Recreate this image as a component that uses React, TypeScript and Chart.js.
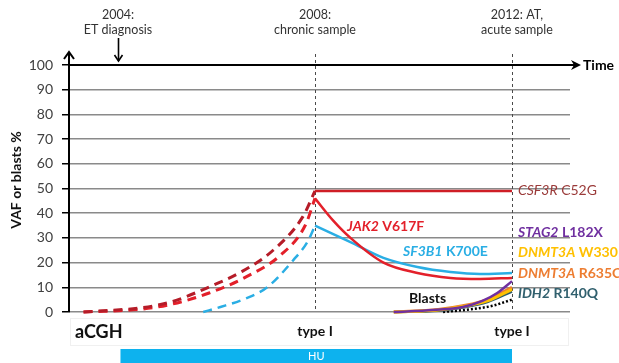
import React, { useEffect, useRef } from "react";
import { Chart, registerables } from "chart.js";

Chart.register(...registerables);

// ---- time axis (years) ----
const X_MIN = 2003.025;
const X_MAX = 2013.178;
const diagnosisYear = 2004;
const sampleYears = [2008, 2012];
const huStart = 2004.05;
const huEnd = 2012;

// ---- y axis ----
const yTickValues = [0, 10, 20, 30, 40, 50, 60, 70, 80, 90, 100];

// ---- clone trajectories (VAF %) ----
// inferred rise before the chronic sample (dashed)
const csf3rPreYears = [2003.3, 2004.5, 2005.1, 2005.8, 2006.5, 2007.15, 2007.75, 2008];
const csf3rPreVaf = [0, 1.8, 4.2, 9.7, 16.2, 25, 38.5, 49];
const jak2PreYears = [2003.3, 2004.5, 2005.1, 2005.85, 2006.6, 2007.3, 2007.8, 2008];
const jak2PreVaf = [0, 1.2, 3.2, 7.7, 14.2, 23, 35, 46];
const sf3b1PreYears = [2005.73, 2006.08, 2006.6, 2007.03, 2007.56, 2007.85, 2008];
const sf3b1PreVaf = [0, 2, 5.5, 10, 21, 28.5, 35];

// measured course between the chronic and acute samples (solid)
const csf3rYears = [2008, 2012];
const csf3rVaf = [49, 49];
const jak2Years = [2008, 2008.37, 2008.72, 2009.39, 2010.08, 2010.75, 2011.35, 2012];
const jak2Vaf = [46, 37, 30, 20, 15.8, 13.8, 13.4, 13.8];
const sf3b1Years = [2008, 2008.72, 2009.39, 2010.08, 2010.75, 2011.35, 2012];
const sf3b1Vaf = [35, 28.3, 21.9, 18.2, 16.2, 15.4, 15.8];

// emerging clones and blasts
const stag2Years = [2009.6, 2010.4, 2011.0, 2011.4, 2011.7, 2012];
const stag2Vaf = [0, 0.8, 2, 4.5, 7.7, 12.5];
const dnmt3aR635Years = [2009.6, 2010.5, 2011.0, 2011.5, 2012];
const dnmt3aR635Vaf = [0, 1, 2.5, 5, 10];
const dnmt3aW330Years = [2009.6, 2010.5, 2011.0, 2011.5, 2012];
const dnmt3aW330Vaf = [0, 0.8, 2.2, 4.5, 9.2];
const idh2Years = [2009.6, 2010.5, 2011.0, 2011.5, 2012];
const idh2Vaf = [0, 0.5, 1.8, 4, 8.3];
const blastYears = [2010.6, 2011.2, 2011.6, 2012];
const blastPct = [0, 1.2, 2.5, 5];

const FONT = "Lato, 'Open Sans', sans-serif";

const pts = (xs: number[], ys: number[]) => xs.map((x, i) => ({ x, y: ys[i] }));

type Seg = { t: string; i?: boolean };

function drawRich(
  ctx: CanvasRenderingContext2D,
  segs: Seg[],
  x: number,
  y: number,
  color: string,
  size: number,
  weight = "bold"
) {
  let cx = x;
  ctx.fillStyle = color;
  ctx.textAlign = "left";
  ctx.textBaseline = "middle";
  for (const s of segs) {
    ctx.font = `${s.i ? "italic " : ""}${weight} ${size}px ${FONT}`;
    ctx.fillText(s.t, cx, y);
    cx += ctx.measureText(s.t).width;
  }
}

function line(ctx: CanvasRenderingContext2D, x1: number, y1: number, x2: number, y2: number) {
  ctx.beginPath();
  ctx.moveTo(x1, y1);
  ctx.lineTo(x2, y2);
  ctx.stroke();
}

const overlayPlugin = {
  id: "timelineOverlay",
  beforeDatasetsDraw(chart: any) {
    const { ctx, scales } = chart;
    const x = scales.x;
    const y = scales.y;
    ctx.save();
    // sample markers
    ctx.strokeStyle = "#4a4a4a";
    ctx.lineWidth = 1;
    ctx.setLineDash([3, 3]);
    for (const yr of sampleYears) {
      const px = Math.round(x.getPixelForValue(yr)) + 0.5;
      line(ctx, px, 54, px, y.getPixelForValue(0));
    }
    ctx.setLineDash([]);
    ctx.restore();
  },
  afterDraw(chart: any) {
    const { ctx, scales, chartArea } = chart;
    const x = scales.x;
    const y = scales.y;
    const left = chartArea.left;
    const y0 = y.getPixelForValue(0);
    const y100 = y.getPixelForValue(100);
    ctx.save();

    // time axis at 100 with arrow
    ctx.strokeStyle = "#000";
    ctx.fillStyle = "#000";
    ctx.lineWidth = 2;
    line(ctx, left, y100, 574, y100);
    ctx.beginPath();
    ctx.moveTo(581, y100);
    ctx.lineTo(571, y100 - 5);
    ctx.lineTo(574, y100);
    ctx.lineTo(571, y100 + 5);
    ctx.closePath();
    ctx.fill();
    ctx.font = `bold 14px ${FONT}`;
    ctx.textAlign = "left";
    ctx.textBaseline = "middle";
    ctx.fillText("Time", 583, y100);

    // vertical axis with arrow
    ctx.lineWidth = 2;
    line(ctx, left - 1, y0, left - 1, 53);
    ctx.beginPath();
    ctx.moveTo(left - 6, 59);
    ctx.lineTo(left - 1, 52);
    ctx.lineTo(left + 4, 59);
    ctx.stroke();

    // diagnosis arrow
    const dx = Math.round(x.getPixelForValue(diagnosisYear)) + 0.5;
    ctx.lineWidth = 1.6;
    line(ctx, dx, 38, dx, 61);
    ctx.beginPath();
    ctx.moveTo(dx - 4, 55);
    ctx.lineTo(dx, 61);
    ctx.lineTo(dx + 4, 55);
    ctx.stroke();

    // axis title
    ctx.save();
    ctx.translate(16, 180);
    ctx.rotate(-Math.PI / 2);
    ctx.font = `bold 14px ${FONT}`;
    ctx.textAlign = "center";
    ctx.textBaseline = "middle";
    ctx.fillStyle = "#111";
    ctx.fillText("VAF or blasts %", 0, 0);
    ctx.restore();

    // milestones
    ctx.font = `12.5px ${FONT}`;
    ctx.fillStyle = "#333";
    ctx.textAlign = "center";
    ctx.textBaseline = "middle";
    const milestones: [number, string, string][] = [
      [x.getPixelForValue(2004), "2004:", "ET diagnosis"],
      [x.getPixelForValue(2008), "2008:", "chronic sample"],
      [x.getPixelForValue(2012) + 5, "2012: AT,", "acute sample"],
    ];
    for (const [mx, a, b] of milestones) {
      ctx.fillText(a, mx, 15);
      ctx.fillText(b, mx, 30);
    }

    // curve labels
    drawRich(ctx, [{ t: "JAK2", i: true }, { t: " V617F" }], 347, 226, "#E3202A", 14);
    drawRich(ctx, [{ t: "SF3B1", i: true }, { t: " K700E" }], 403, 251, "#2AAEE4", 14);
    drawRich(ctx, [{ t: "Blasts" }], 409, 298, "#111", 14);

    // clone labels at the acute sample
    const lx = 518;
    drawRich(ctx, [{ t: "CSF3R", i: true }, { t: " C52G" }], lx, 190, "#9B3B3A", 14, "normal");
    drawRich(ctx, [{ t: "STAG2", i: true }, { t: " L182X" }], lx, 232, "#7030A0", 14);
    drawRich(ctx, [{ t: "DNMT3A", i: true }, { t: " W330" }], lx, 252, "#FFC000", 14);
    drawRich(ctx, [{ t: "DNMT3A", i: true }, { t: " R635C" }], lx, 273, "#ED7D31", 14);
    drawRich(ctx, [{ t: "IDH2", i: true }, { t: " R140Q" }], lx, 293, "#31606E", 14);

    // lower panel: aCGH results
    ctx.strokeStyle = "#f0f0f0";
    ctx.lineWidth = 1;
    ctx.strokeRect(left + 0.5, 318.5, chartArea.right - left - 2, 27);
    drawRich(ctx, [{ t: "aCGH" }], 75, 332, "#111", 18);
    ctx.font = `bold 14px ${FONT}`;
    ctx.fillStyle = "#111";
    ctx.textAlign = "center";
    for (const yr of sampleYears) {
      ctx.fillText("type I", x.getPixelForValue(yr), 331);
    }

    // hydroxyurea treatment bar
    const hx1 = x.getPixelForValue(huStart);
    const hx2 = x.getPixelForValue(huEnd);
    ctx.fillStyle = "#0DB2EE";
    ctx.fillRect(hx1, 349, hx2 - hx1, 14);
    ctx.fillStyle = "#fff";
    ctx.font = `11px ${FONT}`;
    ctx.textAlign = "center";
    ctx.fillText("HU", (hx1 + hx2) / 2, 356.5);

    ctx.restore();
  },
};

export default function App() {
  const canvasRef = useRef<HTMLCanvasElement | null>(null);

  useEffect(() => {
    const canvas = canvasRef.current;
    if (!canvas) return;

    const mk = (
      label: string,
      data: { x: number; y: number }[],
      color: string,
      width: number,
      dash: number[] = []
    ) => ({
      label,
      data,
      borderColor: color,
      backgroundColor: color,
      borderWidth: width,
      borderDash: dash,
      pointRadius: 0,
      fill: false,
      cubicInterpolationMode: "monotone" as const,
      clip: false as const,
    });

    const chart = new Chart(canvas, {
      type: "line",
      data: {
        datasets: [
          mk("CSF3R C52G", pts(csf3rYears, csf3rVaf), "#CF1E26", 2.5),
          mk("JAK2 V617F", pts(jak2Years, jak2Vaf), "#E3202A", 2.5),
          mk("SF3B1 K700E", pts(sf3b1Years, sf3b1Vaf), "#2AAEE4", 2.5),
          mk("CSF3R C52G (inferred)", pts(csf3rPreYears, csf3rPreVaf), "#B51C28", 3, [9, 6]),
          mk("JAK2 V617F (inferred)", pts(jak2PreYears, jak2PreVaf), "#E3202A", 3, [9, 6]),
          mk("SF3B1 K700E (inferred)", pts(sf3b1PreYears, sf3b1PreVaf), "#2AAEE4", 2.5, [9, 6]),
          mk("STAG2 L182X", pts(stag2Years, stag2Vaf), "#7030A0", 2.5),
          mk("DNMT3A W330", pts(dnmt3aW330Years, dnmt3aW330Vaf), "#FFC000", 3),
          mk("DNMT3A R635C", pts(dnmt3aR635Years, dnmt3aR635Vaf), "#ED7D31", 3),
          mk("IDH2 R140Q", pts(idh2Years, idh2Vaf), "#2F5D6A", 2.5),
          mk("Blasts", pts(blastYears, blastPct), "#000", 2.5, [2, 2]),
        ],
      },
      options: {
        responsive: false,
        animation: false,
        devicePixelRatio: 1,
        layout: { padding: { top: 65, bottom: 51, right: 49, left: 0 } },
        plugins: {
          legend: { display: false },
          tooltip: { enabled: false },
        },
        scales: {
          x: {
            type: "linear",
            min: X_MIN,
            max: X_MAX,
            display: false,
          },
          y: {
            type: "linear",
            min: 0,
            max: 100,
            afterFit: (scale: any) => {
              scale.width = 70;
            },
            afterBuildTicks: (scale: any) => {
              scale.ticks = yTickValues.map((v) => ({ value: v }));
            },
            border: { display: false },
            grid: {
              color: (c: any) => (c.tick && c.tick.value === 100 ? "rgba(0,0,0,0)" : "#8a8a8a"),
              lineWidth: 1.5,
              tickColor: "#000",
              tickLength: 8,
              tickWidth: 1.5,
            },
            ticks: {
              padding: 9,
              color: "#404040",
              font: { family: FONT, size: 14 },
            },
          },
        },
      },
      plugins: [overlayPlugin],
    });

    return () => chart.destroy();
  }, []);

  return (
    <div style={{ position: "absolute", left: 0, top: 0, width: 619, height: 363, background: "#fff" }}>
      <canvas ref={canvasRef} width={619} height={363} />
    </div>
  );
}
